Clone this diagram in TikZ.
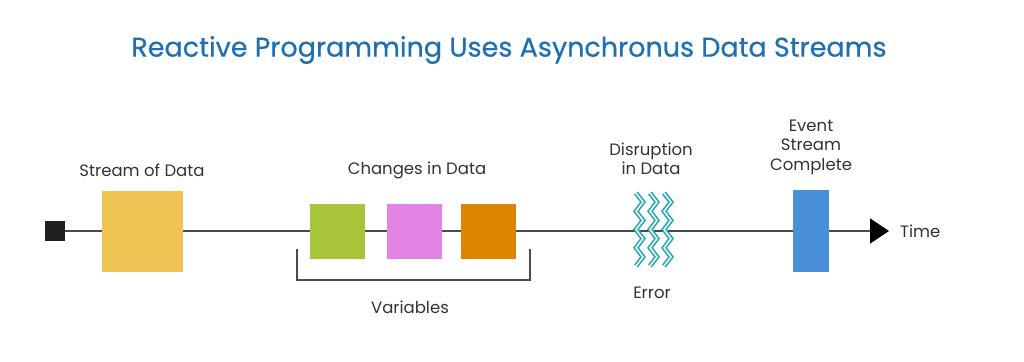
\documentclass[tikz,border=0pt]{standalone}
\usepackage{fontspec}
\setmainfont{Poppins}
\newfontfamily\titlefont{Poppins}[FakeBold=0.5]
\usetikzlibrary{arrows.meta}
\definecolor{titleblue}{HTML}{1F6FB3}
\definecolor{txt}{HTML}{333333}
\definecolor{ln}{HTML}{4A4A4A}
\definecolor{cyellow}{HTML}{F0C355}
\definecolor{cgreen}{HTML}{A8C43A}
\definecolor{cpink}{HTML}{E283E3}
\definecolor{corange}{HTML}{DD8500}
\definecolor{cblue}{HTML}{4A90D9}
\definecolor{cteal}{HTML}{1FA8B4}
\begin{document}
\begin{tikzpicture}[x=1pt,y=-1pt,
  box/.style={draw=none, inner sep=0pt, outer sep=0pt},
  lbl/.style={text=txt, font=\fontsize{16.5}{19.5}\selectfont, align=center, inner sep=0pt},
  streamline/.style={draw=ln, line width=1.4pt},
  zz/.style={draw=cteal, line width=1.6pt, double=white, double distance=1.5pt, line join=miter}]
\useasboundingbox (0,0) rectangle (1024,361);
% title
\node[text=titleblue, font=\titlefont\fontsize{27}{30}\selectfont, inner sep=0pt] (title) at (509,50) {Reactive Programming Uses Asynchronus Data Streams};
% stream elements
\node[box, fill=black!88, minimum width=20pt, minimum height=20pt] (start) at (55,231) {};
\node[box, fill=cyellow, minimum width=81pt, minimum height=81pt] (yellow) at (142.5,231) {};
\node[box, fill=cgreen, minimum width=55pt, minimum height=55pt] (green) at (337.5,231) {};
\node[box, fill=cpink, minimum width=55pt, minimum height=55pt] (pink) at (414,231) {};
\node[box, fill=corange, minimum width=55pt, minimum height=55pt] (orange) at (488.5,231) {};
\node[box, fill=cblue, minimum width=36pt, minimum height=82pt] (blue) at (811,231) {};
\coordinate (tip) at (889,231);
\coordinate (err) at (650,231);
% line segments
\draw[streamline] (start) -- (yellow);
\draw[streamline] (yellow) -- (green);
\draw[streamline] (green) -- (pink);
\draw[streamline] (pink) -- (orange);
\draw[streamline] (orange) -- (err);
\draw[streamline] (err) -- (blue);
\draw[streamline, -{Triangle[length=19pt,width=25pt,fill=black,color=black]}] (blue) -- (tip);
% zigzags
\foreach \x in {636,650,664}{
  \draw[zz] (\x,193) -- (\x+7,202.1) -- (\x,211.3) -- (\x+7,220.4) -- (\x,229.5) -- (\x+7,238.6) -- (\x,247.8) -- (\x+7,256.9) -- (\x,266);
}
% bracket
\coordinate (bl) at (297,249);
\coordinate (br) at (530,249);
\draw[draw=ln, line width=1.3pt] (bl) -- (297,280) -- (530,280) -- (br);
% labels
\node[lbl] (l1) at (142,170) {Stream of Data};
\node[lbl] (l2) at (417,170) {Changes in Data};
\node[lbl] (l3) at (410,307) {Variables};
\node[lbl] (l4) at (651,159) {Disruption\\in Data};
\node[lbl] (l5) at (652,293) {Error};
\node[lbl] (l6) at (811,147) {Event\\Stream\\Complete};
\node[lbl, anchor=west] (l7) at (900,231) {Time};
\end{tikzpicture}
\end{document}
